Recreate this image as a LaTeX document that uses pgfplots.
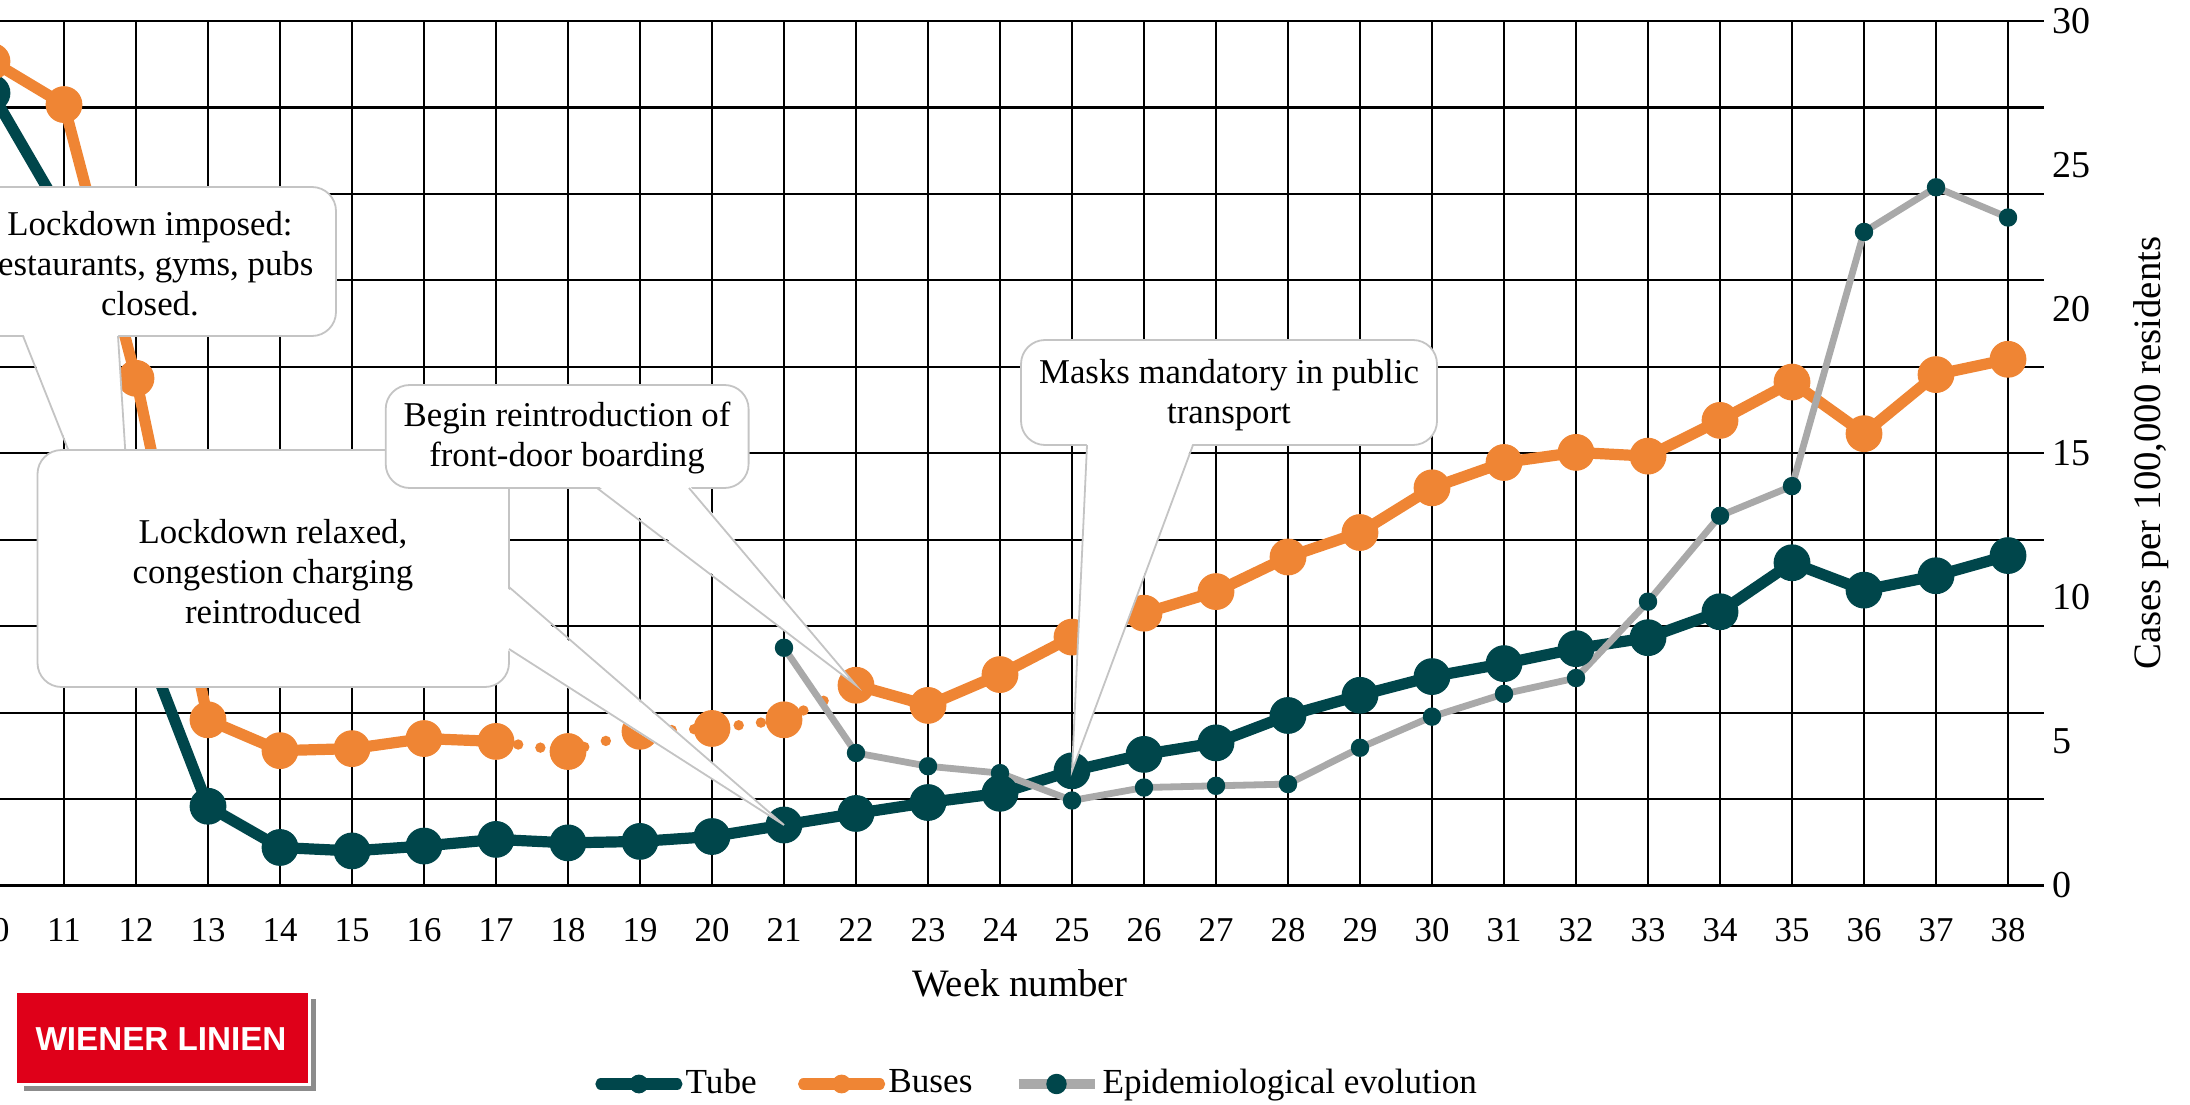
\documentclass[border=0pt]{standalone}
\usepackage{fontspec}
\setmainfont{Liberation Serif}
\newfontfamily\logofont{Liberation Sans}
\usepackage{pgfplots}
\pgfplotsset{compat=1.18}
\definecolor{tube}{HTML}{00464B}
\definecolor{bus}{HTML}{EF8534}
\definecolor{epi}{HTML}{A9A9A9}
\definecolor{cgray}{HTML}{C4C4C4}
\definecolor{wlred}{HTML}{DF0019}
\tikzset{
  tubeline/.style={color=tube, line width=2.8pt, line join=round, line cap=round},
  busline/.style={color=bus, line width=2.8pt, line join=round, line cap=round},
  busdot/.style={color=bus, line width=2.6pt, line cap=round, dash pattern=on 0pt off 5.6pt},
  epiline/.style={color=epi, line width=1.7pt, line join=round},
  cbox/.style={draw=cgray, fill=white, line width=0.45pt, rounded corners=6pt},
  cline/.style={draw=cgray, line width=0.45pt},
  ctext/.style={align=center, inner sep=0pt, font=\fontsize{8.7}{10}\selectfont},
}
\begin{document}
\begin{tikzpicture}
\path[use as bounding box] (11pt,-54.625pt) rectangle (558.5pt,221.375pt);
\clip (11pt,-54.625pt) rectangle (558.5pt,221.375pt);
\begin{axis}[
  at={(0pt,0pt)}, anchor=south west,
  scale only axis, width=522pt, height=216.125pt,
  xmin=9.5, xmax=38.5, ymin=0, ymax=30,
  xtick={10,...,38},
  ytick={0,5,...,30},
  minor ytick={0,3,...,30},
  xmajorgrids=true, ymajorgrids=false, yminorgrids=true,
  major grid style={black, line width=0.55pt},
  minor grid style={black, line width=0.55pt},
  axis line style={draw=none},
  major tick length=0pt, minor tick length=0pt,
  yticklabel pos=right,
  /pgf/number format/assume math mode=true,
  xticklabel style={font=\fontsize{8.7}{10}\selectfont, yshift=-4.7pt},
  yticklabel style={font=\fontsize{9.5}{11}\selectfont, xshift=-1.5pt},
  xlabel={Week number},
  xlabel style={font=\fontsize{9.7}{11}\selectfont, at={(axis description cs:0.5096,-0.1128)}, anchor=center},
  ylabel={Cases per 100,000 residents},
  ylabel style={font=\fontsize{9.7}{11}\selectfont, at={(axis description cs:1.0512,0.5)}, anchor=center},
  legend columns=3,
  legend style={draw=none, fill=none, at={(axis description cs:0.3058,-0.2296)}, anchor=west,
    inner sep=0pt, font=\fontsize{8.8}{10}\selectfont, nodes={inner sep=0.8pt},
    /tikz/every even column/.append style={column sep=9.5pt}},
  legend image code/.code={\draw[mark repeat=2,mark phase=2,#1] plot coordinates {(0pt,0pt) (9.5pt,0pt) (19pt,0pt)};},
]
% Tube
\addplot[tubeline, mark=*, mark size=4.45pt, mark options={solid, fill=tube, draw=tube, line width=0.3pt}, forget plot] coordinates {
(10,27.5) (11,23.2) (12,9.2) (13,2.75) (14,1.32) (15,1.2) (16,1.37) (17,1.6) (18,1.48) (19,1.53)
(20,1.7) (21,2.1) (22,2.5) (23,2.88) (24,3.2) (25,3.98) (26,4.55) (27,4.95) (28,5.9) (29,6.6)
(30,7.25) (31,7.7) (32,8.22) (33,8.6) (34,9.5) (35,11.2) (36,10.25) (37,10.75) (38,11.45)};
% Buses: solid, dotted, solid segments and markers
\addplot[busline, forget plot] coordinates {
(10,28.6) (11,27.1) (12,17.6) (13,5.75) (14,4.68) (15,4.75) (16,5.1) (17,5.0)};
\addplot[busdot, forget plot] coordinates {
(17,5.0) (18,4.65) (19,5.35) (20,5.45) (21,5.75) (22,6.95)};
\addplot[busline, forget plot] coordinates {
(22,6.95) (23,6.25) (24,7.32) (25,8.62) (26,9.45) (27,10.2) (28,11.4) (29,12.25) (30,13.8)
(31,14.68) (32,15.03) (33,14.9) (34,16.14) (35,17.47) (36,15.68) (37,17.73) (38,18.26)};
\addplot[only marks, mark=*, mark size=4.45pt, mark options={fill=bus, draw=bus, line width=0.3pt}, forget plot] coordinates {
(10,28.6) (11,27.1) (12,17.6) (13,5.75) (14,4.68) (15,4.75) (16,5.1) (17,5.0) (18,4.65) (19,5.35)
(20,5.45) (21,5.75) (22,6.95) (23,6.25) (24,7.32) (25,8.62) (26,9.45) (27,10.2) (28,11.4) (29,12.25)
(30,13.8) (31,14.68) (32,15.03) (33,14.9) (34,16.14) (35,17.47) (36,15.68) (37,17.73) (38,18.26)};
% Epidemiological evolution
\addplot[epiline, mark=*, mark size=2.15pt, mark options={solid, fill=tube, draw=tube, line width=0.3pt}, forget plot] coordinates {
(21,8.25) (22,4.6) (23,4.14) (24,3.9) (25,2.95) (26,3.4) (27,3.46) (28,3.52) (29,4.78) (30,5.86)
(31,6.65) (32,7.2) (33,9.85) (34,12.83) (35,13.86) (36,22.68) (37,24.23) (38,23.18)};
% legend
\addlegendimage{tubeline, mark=*, mark size=2.2pt, mark options={fill=tube, draw=tube, line width=0.3pt}}
\addlegendentry{Tube}
\addlegendimage{busline, mark=*, mark size=2.2pt, mark options={fill=bus, draw=bus, line width=0.3pt}}
\addlegendentry{Buses}
\addlegendimage{epiline, line width=2.4pt, mark=*, mark size=2.4pt, mark options={fill=tube, draw=tube, line width=0.3pt}}
\addlegendentry{Epidemiological evolution}
% callout tips
\coordinate (tip1) at (axis cs:12,9.2);
\coordinate (tip2) at (axis cs:22,6.95);
\coordinate (tip3) at (axis cs:21,2.1);
\coordinate (tip4) at (axis cs:25,3.98);
\end{axis}
\begin{scope}[x=0.25pt, y=-0.25pt, shift={(11pt,221.375pt)}]
% callout 1
\draw[cbox] (-36,187) rectangle (336,336);
\fill[white] (23,333) -- (tip1) -- (118,333) -- cycle;
\draw[cline] (23,336) -- (tip1) -- (118,336);
\node[ctext] at (150,264) {Lockdown imposed:\\restaurants, gyms, pubs\\closed.};
% callout 3
\draw[cbox] (37.5,450) rectangle (509,687);
\fill[white] (506,587) -- (tip3) -- (506,649) -- cycle;
\draw[cline] (509,587) -- (tip3) -- (509,649);
\node[ctext] at (273,572) {Lockdown relaxed,\\congestion charging\\reintroduced};
% callout 2
\draw[cbox] (385.7,385) rectangle (748.6,488);
\fill[white] (597,485) -- (tip2) -- (689,485) -- cycle;
\draw[cline] (597,488) -- (tip2) -- (689,488);
\node[ctext] at (567,438) {Begin reintroduction of\\front-door boarding};
% callout 4
\draw[cbox] (1021,340) rectangle (1437,445);
\fill[white] (1087,442) -- (tip4) -- (1193,442) -- cycle;
\draw[cline] (1087,445) -- (tip4) -- (1193,445);
\node[ctext] at (1229,395) {Masks mandatory in public\\transport};
% logo
\fill[black!45] (24,999) rectangle (316,1091);
\fill[white] (-10,987) rectangle (311,1086);
\fill[wlred] (17,993) rectangle (308,1083);
\node[text=white, inner sep=0pt, font=\logofont\bfseries\fontsize{8.3}{9}\selectfont] at (161,1039) {WIENER LINIEN};
\end{scope}
\end{tikzpicture}
\end{document}
